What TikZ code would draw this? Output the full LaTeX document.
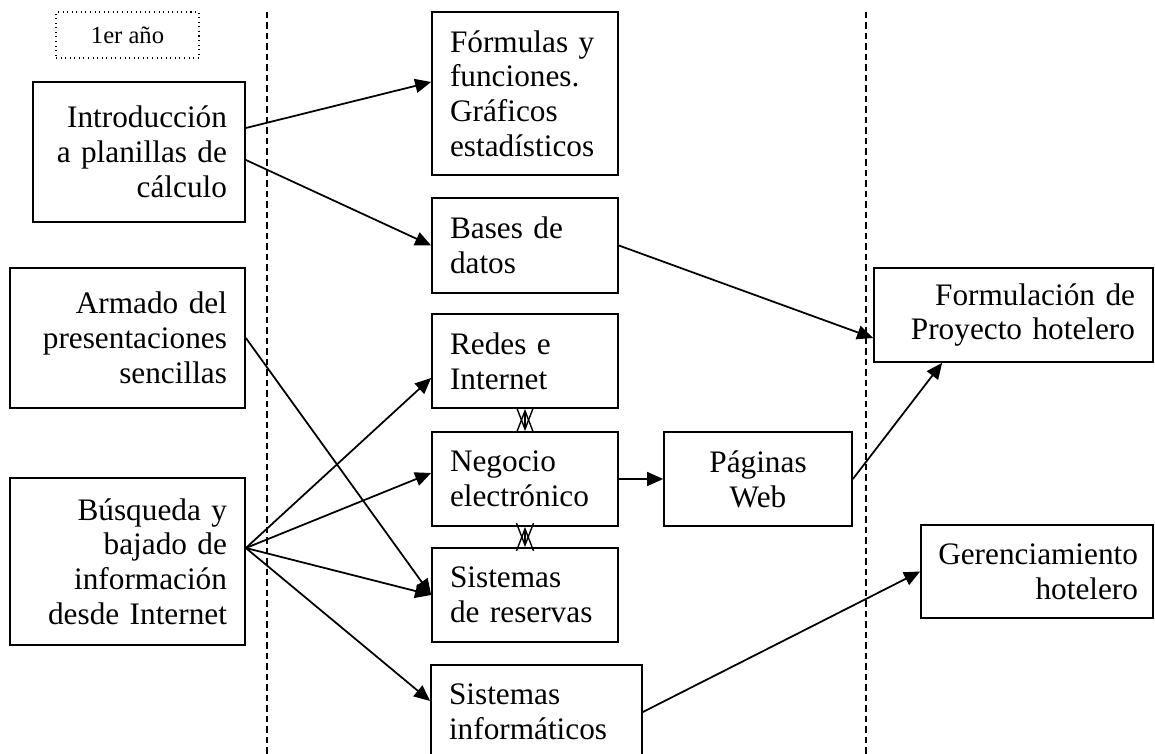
\documentclass[tikz,border=0pt]{standalone}
\usepackage{fontspec}
\setmainfont{Liberation Serif}
\usetikzlibrary{arrows.meta}
\hyphenpenalty=10000
\exhyphenpenalty=10000

\begin{document}
\begin{tikzpicture}[
  caja/.style={draw, line width=1pt, inner xsep=0.36cm, inner ysep=0pt,
    minimum height=1.88cm, font=\fontsize{17.8}{19.8}\selectfont},
  der/.style={caja, align=right},
  izq/.style={caja, align=left, text width=3.0cm, minimum width=3.72cm},
  flecha/.style={line width=1pt, -{Triangle[length=0.32cm,width=0.28cm]}},
  doble/.style={line width=0.8pt,
    {Straight Barb[length=0.44cm,width=0.34cm]}-{Straight Barb[length=0.44cm,width=0.34cm]}},
  limite/.style={line width=0.9pt, dash pattern=on 0.13cm off 0.08cm}
]
\useasboundingbox (0,0) rectangle (23.1,-15.08);

% separadores de columnas
\draw[limite] (5.34,-0.24) -- (5.34,-15.08);
\draw[limite] (17.32,-0.24) -- (17.32,-15.08);

% etiqueta del año
\node[draw, dotted, line width=0.6pt, minimum width=2.86cm, minimum height=0.92cm,
  font=\fontsize{14}{16}\selectfont] (anio) at (2.55,-0.70) {1er año};

% columna izquierda
\node[der, text width=3.52cm, minimum width=4.24cm, minimum height=2.80cm] (intro) at (2.78,-3.04)
  {Introducción\\a planillas de\\cálculo};
\node[der, text width=3.98cm, minimum width=4.70cm, minimum height=2.80cm] (armado) at (2.55,-6.76)
  {Armado del\\presentaciones\\sencillas};
\node[der, text width=3.98cm, minimum width=4.70cm, minimum height=3.34cm] (busq) at (2.55,-11.23)
  {Búsqueda y\\bajado de\\información\\desde Internet};

% columna central
\node[izq, minimum height=3.26cm] (formulas) at (10.50,-1.87)
  {Fórmulas y\\funciones.\\Gráficos\\estadísticos};
\node[izq, minimum height=1.90cm] (bases) at (10.50,-4.91) {Bases de\\datos};
\node[izq] (redes) at (10.50,-7.22) {Redes e\\Internet};
\node[izq] (negocio) at (10.50,-9.58) {Negocio\\electrónico};
\node[izq] (reservas) at (10.50,-11.90) {Sistemas\\de reservas};
\node[izq, text width=3.50cm, minimum width=4.22cm] (informaticos) at (10.73,-14.24)
  {Sistemas\\informáticos};
\node[caja, align=center, text width=3.04cm, minimum width=3.76cm] (paginas) at (15.16,-9.58)
  {Páginas\\Web};

% columna derecha
\node[der, text width=4.86cm, minimum width=5.58cm] (formulacion) at (20.27,-6.30)
  {Formulación de\\Proyecto hotelero};
\node[der, inner xsep=0.3cm, text width=4.04cm, minimum width=4.64cm, minimum height=1.86cm]
  (gerencia) at (20.74,-11.43) {Gerenciamiento\\hotelero};

% flechas
\draw[flecha] ([yshift=0.48cm]intro.east) -- ([yshift=0.23cm]formulas.west);
\draw[flecha] ([yshift=-0.16cm]intro.east) -- (bases.west);
\draw[flecha] (bases.east) -- ([yshift=-0.46cm]formulacion.west);
\draw[flecha] (armado.east) -- (reservas.west);
\coordinate (abanico) at ([yshift=0.27cm]busq.east);
\draw[flecha] (abanico) -- ([yshift=-0.34cm]redes.west);
\draw[flecha] (abanico) -- ([yshift=0.12cm]negocio.west);
\draw[flecha] (abanico) -- (reservas.west);
\draw[flecha] (abanico) -- ([yshift=0.22cm]informaticos.west);
\draw[flecha] (negocio.east) -- (paginas.west);
\draw[flecha] (paginas.east) -- ([xshift=1.38cm]formulacion.south west);
\draw[flecha] (informaticos.east) -- (gerencia.west);
\draw[doble] (redes.south) -- (negocio.north);
\draw[doble] (negocio.south) -- (reservas.north);

\end{tikzpicture}
\end{document}
